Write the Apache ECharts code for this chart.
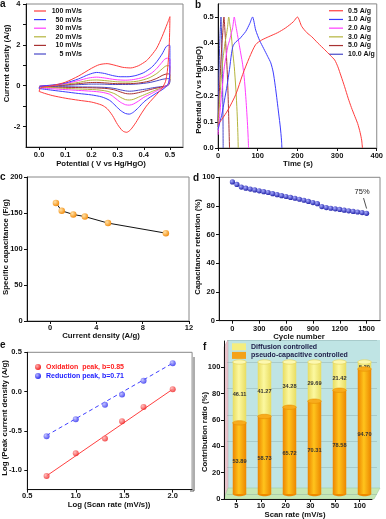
<!DOCTYPE html>
<html><head><meta charset="utf-8">
<script src="https://cdn.jsdelivr.net/npm/echarts@6/dist/echarts.min.js"></script>
<style>html,body{margin:0;padding:0;background:#fff}#c{width:386px;height:519px}</style>
</head><body><div id="c"></div>
<script>
// ---------- Panel a: CV curves ----------
const cvRates = ['100 mV/s','50 mV/s','30 mV/s','20 mV/s','10 mV/s','5 mV/s'];
const cv100 = [[0,-0.28],[0.005,-0.12],[0.02,-0.06],[0.05,0.0],[0.1,0.17],[0.15,0.47],[0.2,0.85],[0.23,1.03],[0.26,1.08],[0.29,1.0],[0.32,0.9],[0.35,0.87],[0.38,0.98],[0.41,1.22],[0.43,1.5],[0.45,1.85],[0.47,2.4],[0.49,3.04],[0.5,3.38],
  [0.499,2.6],[0.496,1.6],[0.49,0.7],[0.483,0.2],[0.47,-0.12],[0.45,-0.42],[0.43,-0.7],[0.41,-1.0],[0.39,-1.38],[0.37,-1.8],[0.35,-2.15],[0.335,-2.28],[0.32,-2.22],[0.3,-1.9],[0.28,-1.45],[0.26,-1.12],[0.24,-0.95],[0.2,-0.8],[0.15,-0.71],[0.1,-0.61],[0.05,-0.48],[0.02,-0.37],[0,-0.28]];
const cv50 = [[0,-0.14],[0.005,-0.03],[0.05,0.03],[0.1,0.13],[0.15,0.33],[0.19,0.55],[0.22,0.65],[0.25,0.6],[0.28,0.5],[0.31,0.44],[0.34,0.44],[0.37,0.5],[0.4,0.64],[0.43,0.9],[0.45,1.18],[0.47,1.55],[0.485,1.9],[0.495,1.98],[0.5,1.97],
  [0.5,1.2],[0.499,0.5],[0.495,0.15],[0.485,-0.05],[0.47,-0.2],[0.45,-0.35],[0.42,-0.6],[0.4,-0.8],[0.38,-1.07],[0.36,-1.3],[0.345,-1.39],[0.33,-1.36],[0.31,-1.2],[0.29,-0.95],[0.27,-0.72],[0.24,-0.55],[0.2,-0.45],[0.15,-0.38],[0.1,-0.3],[0.05,-0.22],[0,-0.14]];
const cv30 = [[0,-0.11],[0.005,-0.02],[0.05,0.02],[0.1,0.1],[0.15,0.25],[0.19,0.38],[0.22,0.42],[0.25,0.38],[0.29,0.3],[0.33,0.27],[0.36,0.3],[0.4,0.42],[0.43,0.62],[0.45,0.85],[0.47,1.15],[0.48,1.3],[0.49,1.35],[0.5,1.3],
  [0.5,0.8],[0.498,0.3],[0.493,0.05],[0.48,-0.05],[0.46,-0.18],[0.43,-0.38],[0.4,-0.57],[0.38,-0.75],[0.36,-0.9],[0.345,-0.95],[0.33,-0.93],[0.31,-0.8],[0.29,-0.6],[0.27,-0.42],[0.24,-0.32],[0.2,-0.27],[0.15,-0.23],[0.1,-0.19],[0.05,-0.15],[0,-0.11]];
const cv20 = [[0,-0.08],[0.005,-0.01],[0.05,0.02],[0.1,0.07],[0.15,0.16],[0.19,0.26],[0.22,0.28],[0.26,0.24],[0.3,0.19],[0.34,0.18],[0.38,0.23],[0.42,0.38],[0.45,0.6],[0.47,0.82],[0.485,0.97],[0.495,0.98],[0.5,0.95],
  [0.5,0.6],[0.498,0.2],[0.49,0.0],[0.47,-0.1],[0.44,-0.24],[0.41,-0.4],[0.38,-0.56],[0.36,-0.67],[0.345,-0.7],[0.33,-0.68],[0.31,-0.56],[0.29,-0.4],[0.26,-0.27],[0.22,-0.2],[0.15,-0.16],[0.1,-0.13],[0.05,-0.1],[0,-0.08]];
const cv10 = [[0,-0.05],[0.05,0.0],[0.1,0.04],[0.15,0.1],[0.19,0.15],[0.22,0.16],[0.26,0.13],[0.3,0.1],[0.34,0.1],[0.38,0.13],[0.42,0.22],[0.45,0.36],[0.47,0.5],[0.485,0.57],[0.495,0.58],[0.5,0.55],
  [0.5,0.35],[0.497,0.1],[0.49,0.0],[0.47,-0.06],[0.44,-0.14],[0.41,-0.24],[0.38,-0.34],[0.36,-0.39],[0.345,-0.4],[0.33,-0.38],[0.31,-0.3],[0.29,-0.21],[0.26,-0.14],[0.22,-0.11],[0.15,-0.09],[0.1,-0.08],[0.05,-0.07],[0,-0.05]];
const cv5 = [[0,-0.03],[0.05,0.0],[0.1,0.02],[0.15,0.05],[0.2,0.08],[0.24,0.08],[0.28,0.06],[0.33,0.06],[0.38,0.09],[0.42,0.15],[0.45,0.24],[0.47,0.31],[0.485,0.34],[0.495,0.35],[0.5,0.33],
  [0.5,0.2],[0.496,0.05],[0.49,0.0],[0.47,-0.04],[0.44,-0.09],[0.41,-0.16],[0.38,-0.22],[0.36,-0.26],[0.345,-0.27],[0.33,-0.25],[0.31,-0.2],[0.29,-0.14],[0.26,-0.09],[0.22,-0.07],[0.15,-0.06],[0.1,-0.05],[0.05,-0.04],[0,-0.03]];
const cvXTicks = [0,0.1,0.2,0.3,0.4,0.5];
const cvYLabels = [-2,0,2,4];
const cvYTicks = [-2,-1,0,1,2,3,4];

// ---------- Panel b: GCD curves ----------
const gcdRates = ['0.5 A/g','1.0 A/g','2.0 A/g','3.0 A/g','5.0 A/g','10.0 A/g'];
const gcd05 = [[0,0.09],[10,0.11],[25,0.145],[45,0.205],[62,0.28],[79,0.345],[95,0.395],[110,0.412],[128,0.425],[150,0.44],[170,0.458],[190,0.482],[200,0.5],[211,0.464],[224,0.44],[236,0.425],[252,0.4],[269,0.375],[284,0.352],[294,0.336],[302,0.31],[310,0.275],[319,0.234],[328,0.19],[336,0.155],[345,0.12],[352,0.093],[358,0.06],[362,0.03],[364,0]];
const gcd1 = [[0,0.07],[5,0.1],[10,0.13],[16,0.18],[23,0.24],[29,0.3],[34,0.36],[38,0.39],[45,0.405],[54,0.416],[62,0.43],[70,0.445],[80,0.475],[87,0.5],[95,0.45],[105,0.41],[115,0.38],[125,0.35],[133,0.325],[139,0.29],[144,0.24],[149,0.18],[153,0.13],[157,0.08],[160,0.03],[161,0]];
const gcd2 = [[0,0.05],[4,0.12],[8,0.19],[12,0.25],[16,0.31],[21,0.355],[25,0.39],[29,0.41],[33,0.435],[37,0.46],[41,0.5],[44,0.475],[47,0.45],[51,0.415],[54,0.39],[58,0.355],[62,0.32],[66,0.27],[70,0.196],[74,0.1],[76,0.04],[77,0]];
const gcd3 = [[0,0.08],[3,0.15],[6,0.22],[9,0.28],[12,0.335],[15,0.37],[18,0.405],[21,0.43],[24,0.46],[27,0.5],[30,0.47],[33,0.44],[37,0.37],[41,0.31],[45,0.225],[48,0.14],[50,0.06],[51,0]];
const gcd5 = [[0,0.1],[2,0.16],[4,0.23],[6,0.29],[8,0.35],[10,0.4],[12,0.44],[15,0.5],[17,0.46],[19,0.41],[21,0.36],[23,0.3],[25,0.22],[27,0.12],[28,0.06],[29,0]];
const gcd10 = [[0,0.08],[1,0.18],[2,0.26],[3,0.32],[4,0.38],[5,0.43],[6,0.46],[7.5,0.5],[8.5,0.46],[9.5,0.4],[10.5,0.33],[11.5,0.24],[12.4,0.145],[13,0]];
const gcdXTicks = [0,100,200,300,400];
const gcdYTicks = [0,0.1,0.2,0.3,0.4,0.5];

// ---------- Panel c: specific capacitance ----------
const capCurrent = [0.5,1,2,3,5,10];
const capValue = [164,153,148,145,136,122];
const capXTicks = [0,4,8,12];
const capYTicks = [0,50,100,150,200];

// ---------- Panel d: cycling ----------
const cycles = [0,50,100,150,200,250,300,350,400,450,500,550,600,650,700,750,800,850,900,950,1000,1050,1100,1150,1200,1250,1300,1350,1400,1450,1500];
const retention = [96.8,95.0,93.2,92.4,91.8,91.2,90.6,90.0,89.4,88.6,87.9,87.2,86.6,86.0,85.4,84.7,84.0,83.2,82.4,81.6,79.6,78.9,78.4,78.0,77.6,77.1,76.6,76.2,75.8,75.4,74.9];
const cycXTicks = [0,300,600,900,1200,1500];
const cycYTicks = [0,20,40,60,80,100];

// ---------- Panel e: log peak current ----------
const peakNames = ['Oxidation  peak, b=0.85','Reduction peak, b=0.71'];
const logRate = [0.699,1.0,1.301,1.477,1.699,2.0];
const logOx = [-1.077,-0.787,-0.6,-0.379,-0.196,0.03];
const logRed = [-0.57,-0.353,-0.17,-0.038,0.136,0.362];
const oxFit = [[0.699,-1.075],[2.0,0.03]];
const redFit = [[0.699,-0.56],[2.0,0.362]];
const logXTicks = [0.5,1.0,1.5,2.0];
const logYTicks = [-1.0,-0.5,0.0,0.5];

// ---------- Panel f: contribution ----------
const scanRates = ['5','10','20','30','50','100'];
const pseudoPct = [53.89,58.73,65.72,70.31,78.58,94.70];
const diffPct = [46.11,41.27,34.28,29.69,21.42,5.30];
const ratioYTicks = [0,20,40,60,80,100];

const FF = '"Liberation Sans", Arial, Helvetica, sans-serif';
const cvColors = ['#ff3c3c','#3c3cff','#ff3cff','#b4b43c','#a83232','#4848c8'];
const gcdColors = ['#ff3c3c','#3c3cff','#ff3cff','#b4b43c','#a83232','#4848c8'];

function valAxis(gi, min, max, labelVals, tickVals, fmt, margin) {
  return {
    type:'value', gridIndex:gi, min:min, max:max,
    axisLine:{show:true, onZero:false, lineStyle:{color:'#111', width:1}},
    axisTick:{show:true, length:3, customValues:tickVals, lineStyle:{color:'#111', width:1}},
    axisLabel:{show:true, customValues:labelVals, formatter:fmt, fontSize:7.5, fontWeight:'bold', color:'#111', fontFamily:FF, margin:margin,
      showMinLabel:true, showMaxLabel:true, hideOverlap:false},
    splitLine:{show:false}
  };
}
const f1 = v => Number(v).toFixed(1);
const f0 = v => String(Math.round(v));
function radial(c0, c1){ return new echarts.graphic.RadialGradient(0.35,0.35,0.75,[{offset:0,color:c0},{offset:1,color:c1}]); }
const oxColor = () => radial('#ffb0b0','#ee1010');
const redColor = () => radial('#b8b8ff','#1a1aee');

const gridBox = {show:true, borderColor:'#888', borderWidth:1, backgroundColor:'rgba(0,0,0,0)'};
const grids = [
  Object.assign({left:26, top:3.5, width:157, height:143.5}, gridBox),
  Object.assign({left:218, top:3.9, width:161, height:144.1}, gridBox),
  Object.assign({left:27, top:177, width:162, height:144}, gridBox),
  Object.assign({left:219, top:177.3, width:161, height:143.4}, gridBox),
  Object.assign({left:27.3, top:352.3, width:164.8, height:137.3}, gridBox),
  {left:224, top:341, width:148, height:158, show:false},
  {left:227, top:340, width:150, height:154, show:false}
];

const xAxes = [
  valAxis(0,-0.05,0.55,cvXTicks,cvXTicks,f1,4),
  valAxis(1,0,400,gcdXTicks,gcdXTicks,f0,4),
  valAxis(2,-2,12,capXTicks,capXTicks,f0,3),
  valAxis(3,-150,1650,cycXTicks,cycXTicks,f0,4.5),
  valAxis(4,0.5,2.2,logXTicks,logXTicks,f1,2.5),
  {type:'category', gridIndex:5, data:scanRates, boundaryGap:true,
   axisLine:{show:true, lineStyle:{color:'#111', width:1}},
   axisTick:{show:true, alignWithLabel:true, length:3, lineStyle:{color:'#111'}},
   axisLabel:{fontSize:7.5, fontWeight:'bold', color:'#111', fontFamily:FF, margin:3}},
  {type:'category', gridIndex:6, data:scanRates, boundaryGap:true, show:false}
];
const yAxes = [
  valAxis(0,-3,4,cvYLabels,cvYTicks,f0,5.5),
  valAxis(1,0,0.55,gcdYTicks,gcdYTicks,f1,4.3),
  valAxis(2,0,200,capYTicks,capYTicks,f0,4.3),
  valAxis(3,0,100,cycYTicks,cycYTicks,f0,4.2),
  valAxis(4,-1.25,0.5,logYTicks,logYTicks,f1,5.5),
  valAxis(5,0,120,ratioYTicks,ratioYTicks,f0,3.7),
  {type:'value', gridIndex:6, min:0, max:116.67, interval:20,
   axisLine:{show:false}, axisTick:{show:false}, axisLabel:{show:false},
   splitLine:{show:true, lineStyle:{color:'rgba(120,150,150,0.55)', width:0.6}}}
];

const series = [];
[cv100,cv50,cv30,cv20,cv10,cv5].forEach((d,k)=>{
  series.push({type:'line', name:cvRates[k], xAxisIndex:0, yAxisIndex:0, data:d, symbol:'none', smooth:0.25,
    lineStyle:{width:1, color:cvColors[k]}, itemStyle:{color:cvColors[k]}, z:10-k});
});
[gcd05,gcd1,gcd2,gcd3,gcd5,gcd10].forEach((d,k)=>{
  series.push({type:'line', name:gcdRates[k], xAxisIndex:1, yAxisIndex:1, data:d, symbol:'none', smooth:0.25,
    lineStyle:{width:1, color:gcdColors[k]}, itemStyle:{color:gcdColors[k]}, z:10-k});
});
series.push({type:'line', name:'cap', xAxisIndex:2, yAxisIndex:2, data:capCurrent.map((x,i)=>[x,capValue[i]]),
  symbol:'circle', symbolSize:6.5, lineStyle:{color:'#111', width:1},
  itemStyle:{color:radial('#ffe2a8','#f28500')}});
series.push({type:'line', name:'ret', xAxisIndex:3, yAxisIndex:3, data:cycles.map((x,i)=>[x,retention[i]]),
  symbol:'circle', symbolSize:5.2, lineStyle:{color:'#2222aa', width:0.8},
  itemStyle:{color:radial('#a8acff','#1414a0')},
  markLine:{silent:true, symbol:'none', label:{show:false}, lineStyle:{color:'#222', width:0.8, type:'solid'},
    data:[[{coord:[1466,85.5]},{coord:[1500,78.2]}]]},
  markPoint:{symbol:'circle', symbolSize:0, data:[{coord:[1450,89.5], value:'75%'}],
    label:{show:true, formatter:'75%', color:'#222', fontSize:7.5, fontFamily:FF, position:'inside'}}});
series.push({type:'line', name:'oxfit', xAxisIndex:4, yAxisIndex:4, data:oxFit, symbol:'none', lineStyle:{color:'#ff4040', width:1}, z:1});
series.push({type:'line', name:'redfit', xAxisIndex:4, yAxisIndex:4, data:redFit, symbol:'none', lineStyle:{color:'#4040ff', width:1, type:[4,3]}, z:1});
series.push({type:'scatter', name:peakNames[0], xAxisIndex:4, yAxisIndex:4, data:logRate.map((x,i)=>[x,logOx[i]]),
  symbolSize:6, itemStyle:{color:oxColor()}, z:3});
series.push({type:'scatter', name:peakNames[1], xAxisIndex:4, yAxisIndex:4, data:logRate.map((x,i)=>[x,logRed[i]]),
  symbolSize:6, itemStyle:{color:redColor()}, z:3});

function cylinder(part){
  return function(params, api){
    const i = api.value(0), p = api.value(1), q = api.value(2);
    const w = api.size([1,0])[0]*0.54, rx = w/2, ry = 2.2;
    const b = api.coord([i,0]), m = api.coord([i,p]), t = api.coord([i,p+q]);
    const cx = b[0];
    const lab = {fill:'#333', font:'bold 5.6px ' + FF, align:'center', verticalAlign:'middle'};
    if (part === 'diff') {
      return {type:'group', children:[
        {type:'rect', shape:{x:cx-rx, y:t[1], width:w, height:m[1]-t[1]},
          style:{fill:new echarts.graphic.LinearGradient(0,0,1,0,[{offset:0,color:'#e8dc60'},{offset:0.45,color:'#fcf8a0'},{offset:1,color:'#e8dc60'}])}},
        {type:'ellipse', shape:{cx:cx, cy:t[1], rx:rx, ry:ry}, style:{fill:'#fcf8b0', stroke:'#e0cf50', lineWidth:0.6}},
        {type:'text', x:cx, y:(t[1]+m[1])/2+2, style:Object.assign({text:q.toFixed(2)}, lab)}
      ]};
    }
    return {type:'group', children:[
      {type:'ellipse', shape:{cx:cx, cy:b[1], rx:rx, ry:ry}, style:{fill:'#ee8a00'}},
      {type:'rect', shape:{x:cx-rx, y:m[1], width:w, height:b[1]-m[1]},
        style:{fill:new echarts.graphic.LinearGradient(0,0,1,0,[{offset:0,color:'#ec8400'},{offset:0.45,color:'#ffc41c'},{offset:1,color:'#ec8600'}])}},
      {type:'ellipse', shape:{cx:cx, cy:m[1], rx:rx, ry:ry}, style:{fill:'#f8ac1c', stroke:'#e88e00', lineWidth:0.6}},
      {type:'text', x:cx, y:(m[1]+b[1])/2+3, style:Object.assign({text:p.toFixed(2)}, lab)}
    ]};
  };
}
const cylData = scanRates.map((s,i)=>[i, pseudoPct[i], diffPct[i]]);
series.push({type:'custom', name:'Diffusion controlled', xAxisIndex:6, yAxisIndex:6, data:cylData, renderItem:cylinder('diff'), itemStyle:{color:'#f4ee80'}, z:3});
series.push({type:'custom', name:'pseudo-capacitive controlled', xAxisIndex:6, yAxisIndex:6, data:cylData, renderItem:cylinder('pseudo'), itemStyle:{color:'#f4a21a'}, z:4});

const legTxt = (lh) => ({fontSize:7, fontWeight:'bold', color:'#111', fontFamily:FF, lineHeight:lh});
const legends = [
  {left:34, top:6.7, orient:'vertical', padding:0, itemGap:0, itemWidth:12, itemHeight:1.2, icon:'rect', data:cvRates,
   formatter:'{r|{name}}', textStyle:Object.assign(legTxt(8.6), {rich:{r:Object.assign({width:31, align:'right'}, legTxt(8.6))}})},
  {left:329, top:6.4, orient:'vertical', padding:0, itemGap:0, itemWidth:14, itemHeight:1.2, icon:'rect', data:gcdRates, textStyle:legTxt(8.7)},
  {left:232, top:342.5, orient:'vertical', padding:0, itemGap:0, itemWidth:14, itemHeight:7, icon:'rect',
   data:['Diffusion controlled','pseudo-capacitive controlled'], textStyle:Object.assign(legTxt(8.6), {color:'#1c1c48'})}
];

const TF = 'bold 7.8px ' + FF;
function title(text, x, y, rot){
  return {type:'text', x:x, y:y, rotation:rot?Math.PI/2:0, z:20,
    style:{text:text, font:TF, fill:'#111', align:'center', verticalAlign:'middle'}};
}
function letter(text, x, y){
  return {type:'text', x:x, y:y, z:20, style:{text:text, font:'bold 10px ' + FF, fill:'#111', align:'left', verticalAlign:'top'}};
}
// key for panel e (marker + coloured text)
function keyItem(name, color, fill, y){
  return [
    {type:'circle', shape:{cx:38, cy:y, r:3}, style:{fill:fill}, z:20},
    {type:'text', x:46, y:y, z:20, style:{text:name, font:'bold 7px ' + FF, fill:color, align:'left', verticalAlign:'middle'}}
  ];
}
const graphics = [
  {type:'rect', shape:{x:228, y:340, width:152, height:148}, style:{fill:'#bfe4e4'}, z:-10},
  {type:'polygon', shape:{points:[[224,347],[228,340],[228,488],[224,499]]}, style:{fill:'#e8c4cc', stroke:'#caa0a8', lineWidth:0.5}, z:-9},
  {type:'polygon', shape:{points:[[224,499],[228,488],[380,488],[374,499]]}, style:{fill:'#c6e8b6', stroke:'#98c498', lineWidth:0.5}, z:-9},
  {type:'polyline', shape:{points:[[194,357],[194,491],[190,491]]}, style:{stroke:'#333', lineWidth:0.8, fill:null}, z:5},
  letter('a',0,-1), letter('b',195,0), letter('c',0,172), letter('d',193,173), letter('e',0,340), letter('f',203,342),
  title('Potential ( V vs Hg/HgO)',101,164.3), title('Current density (A/g)',6.5,63.5,true),
  title('Time (s)',298,164.3), title('Potential (V vs Hg/HgO)',199,90,true),
  title('Current density (A/g)',101,335.5), title('Specific capacitance (F/g)',5.5,247,true),
  title('Cycle number',299,337), title('Capacitance retention (%)',197.5,247,true),
  title('Log (Scan rate (mV/s))',109,505), title('Log (Peak current density (A/g)',4.5,418,true),
  title('Scan rate (mV/s)',295,514.8), title('Contribution ratio (%)',205.2,432,true)
].concat(keyItem(peakNames[0], '#ff2020', oxColor(), 367), keyItem(peakNames[1], '#2020ff', redColor(), 376));

const chart = echarts.init(document.getElementById('c'), null, {renderer:'canvas'});
chart.setOption({
  backgroundColor:'#ffffff', animation:false,
  grid:grids, xAxis:xAxes, yAxis:yAxes, legend:legends, series:series, graphic:{elements:graphics}
});
</script></body></html>
